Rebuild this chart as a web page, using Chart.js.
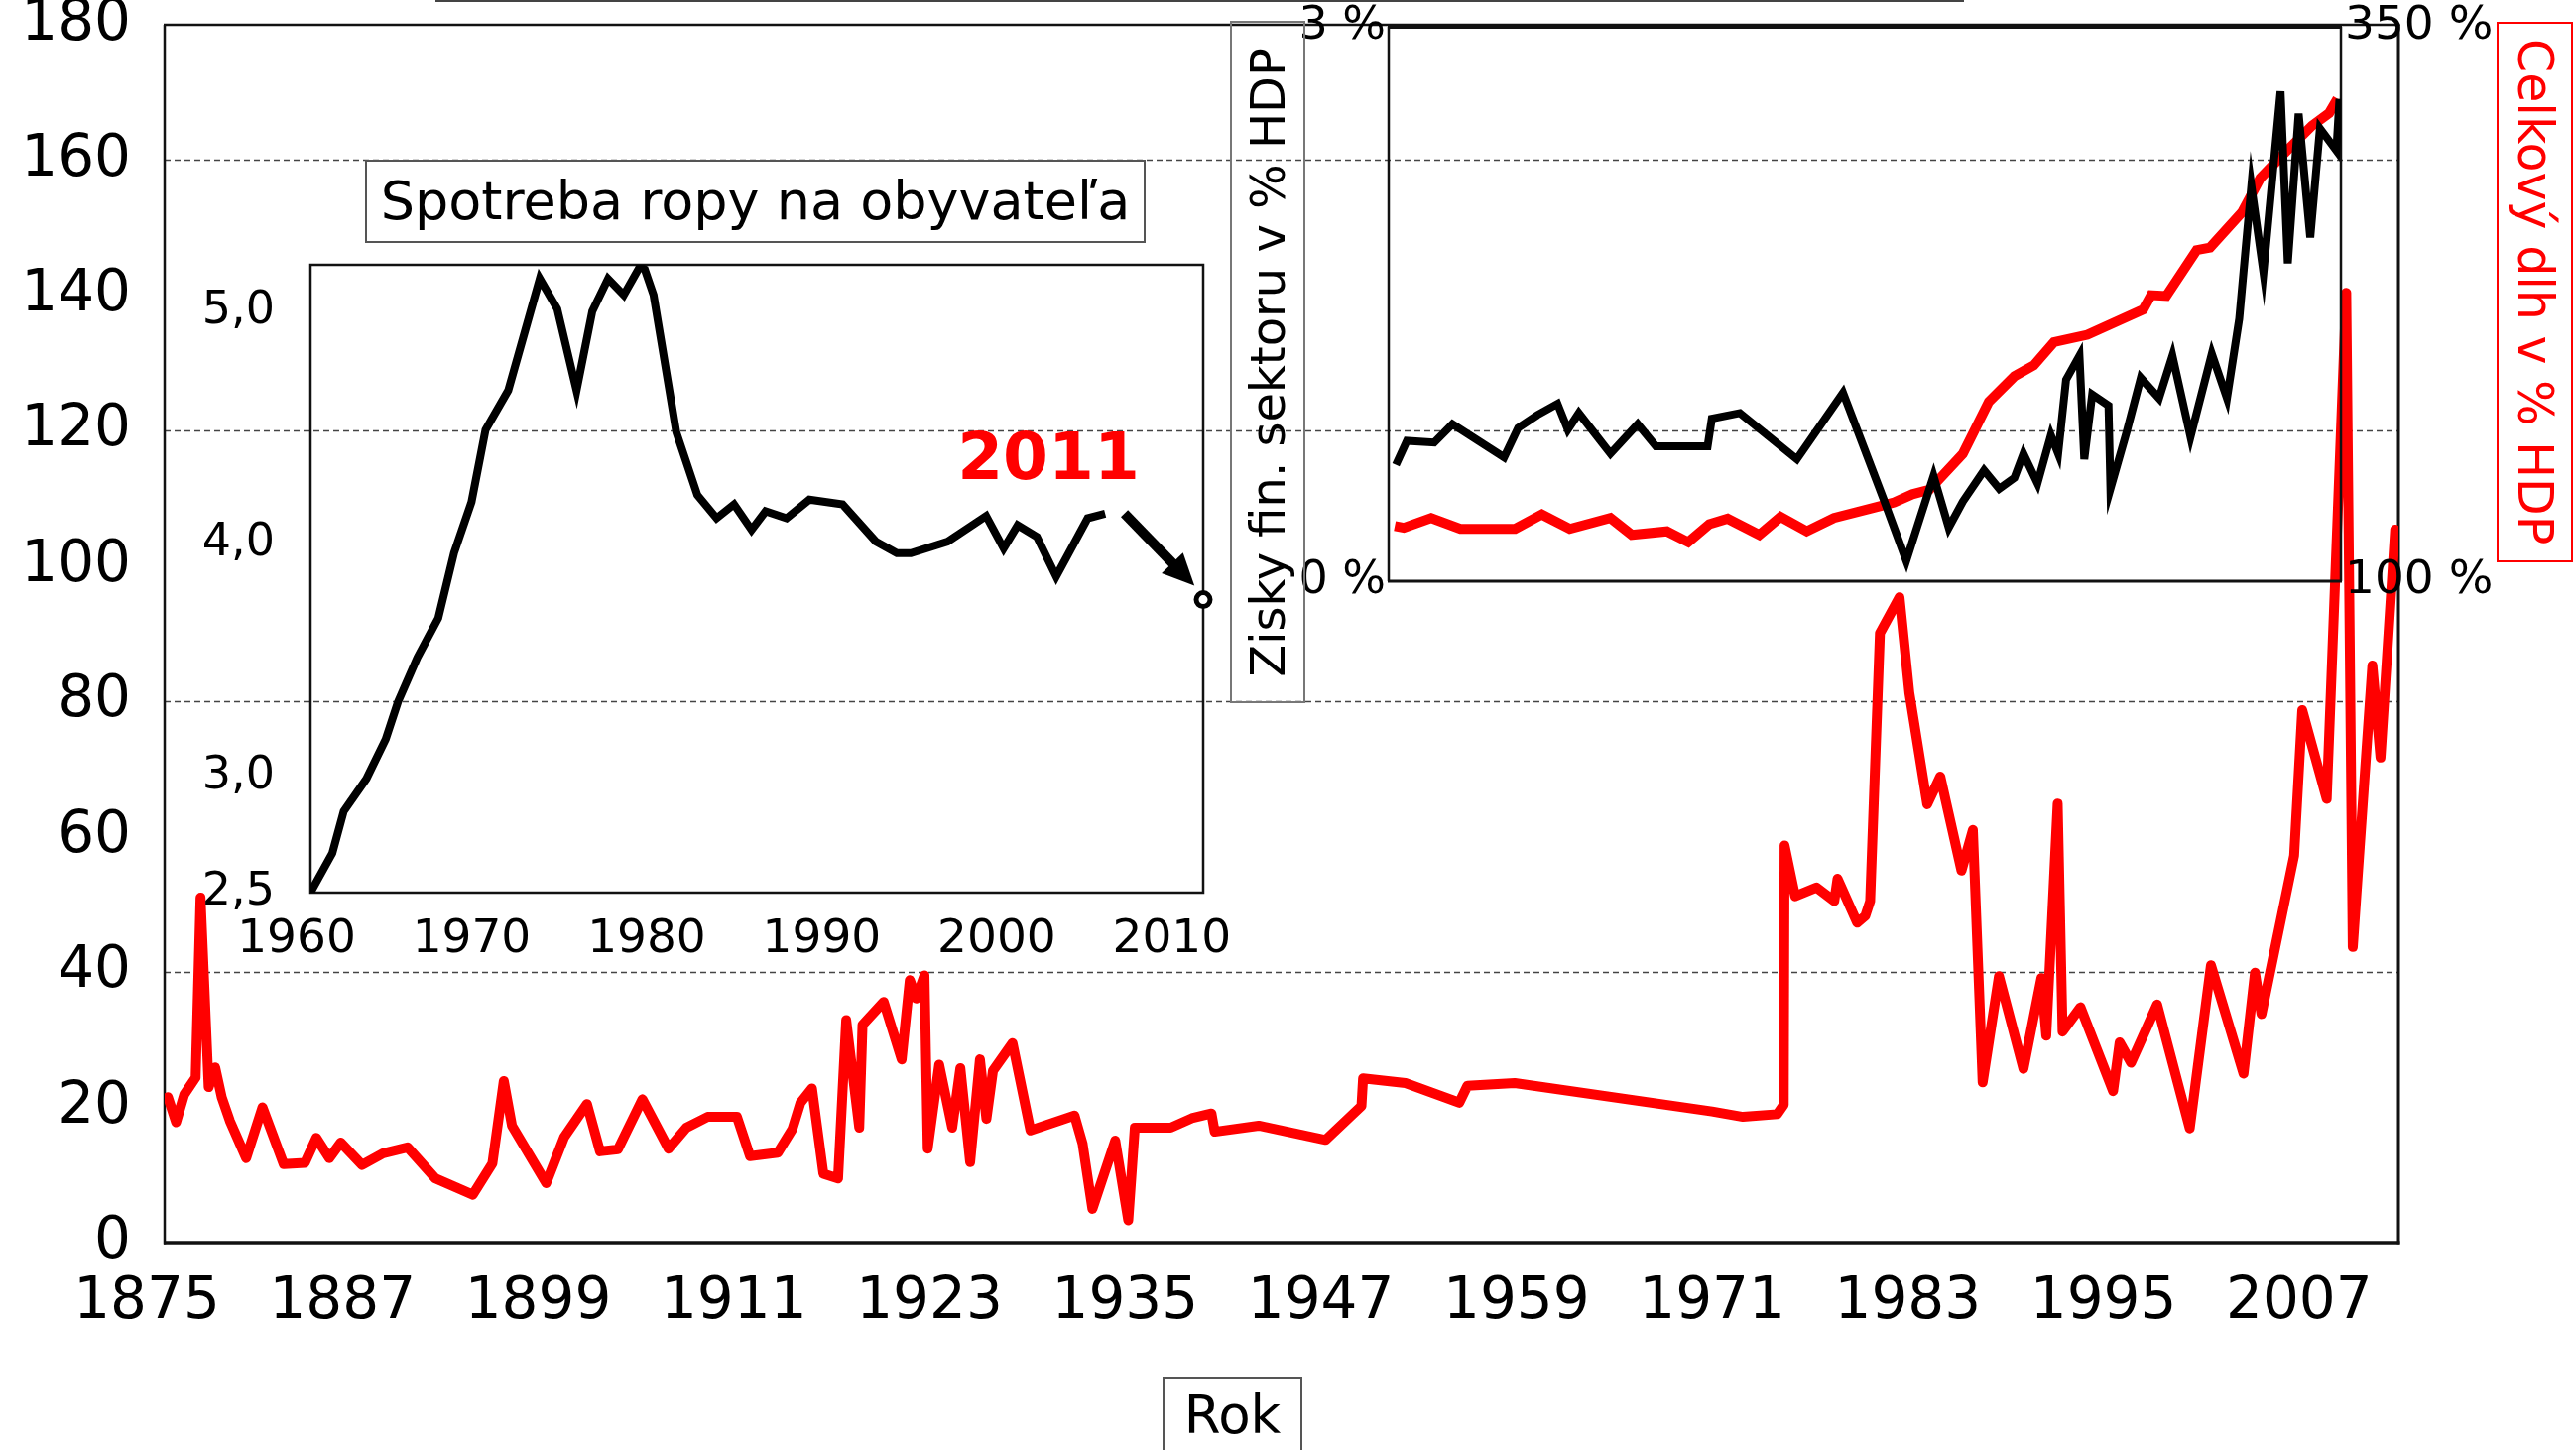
<!DOCTYPE html>
<html>
<head>
<meta charset="utf-8">
<script src="https://cdn.jsdelivr.net/npm/chart.js@4.4.1/dist/chart.umd.min.js"></script>
<style>
html,body{margin:0;padding:0;background:#fff;}
#wrap{position:relative;width:2597px;height:1462px;overflow:hidden;background:#fff;font-family:"DejaVu Sans",sans-serif;color:#000;}
canvas{position:absolute;}
.box{position:absolute;box-sizing:border-box;display:flex;align-items:center;justify-content:center;white-space:nowrap;line-height:1;}
.vup{writing-mode:vertical-rl;transform:rotate(180deg);}
.vdown{writing-mode:vertical-rl;}
</style>
</head>
<body>
<div id="wrap">
  <canvas id="mainChart" width="2597" height="1462" style="left:0;top:0"></canvas>
  <canvas id="oilChart" width="1060" height="740" style="left:180px;top:255px"></canvas>
  <canvas id="finChart" width="1250" height="620" style="left:1280px;top:0"></canvas>

  <div style="position:absolute;left:439px;top:0;width:1541px;height:2px;background:#444"></div>
  <div class="box" style="left:368px;top:161px;width:787px;height:84px;border:2px solid #555;font-size:54px;">Spotreba ropy na obyvateľa</div>
  <div style="position:absolute;left:957px;top:428px;width:200px;text-align:center;font-size:66px;font-weight:bold;color:#ff0000;line-height:1;">2011</div>
  <div class="box" style="left:1240px;top:21px;width:76px;height:688px;border:2px solid #777;font-size:48px;"><span class="vup">Zisky fin. sektoru v % HDP</span></div>
  <div class="box" style="left:2517px;top:22px;width:77px;height:545px;border:2px solid #ff0000;font-size:49px;color:#ff0000;"><span class="vdown">Celkový dlh v % HDP</span></div>
  <div class="box" style="left:1172px;top:1388px;width:141px;height:90px;border:2px solid #555;font-size:53px;padding-bottom:14px;">Rok</div>
</div>

<script>
// ---------------- DATA ----------------
// Main chart: red series, x = year, y = value
const mainYears = [1875.2,1875.7,1876.2,1876.9,1877.2,1877.7,1878.1,1878.5,1879.0,1880.0,
  1881.0,1882.3,1883.6,1884.3,1885.1,1885.8,1887.1,1888.4,1889.9,1891.6,
  1893.9,1895.1,1895.8,1896.3,1898.4,1899.5,1900.9,1901.7,1902.8,1904.3,
  1905.9,1907.0,1908.3,1910.1,1910.9,1912.6,1913.5,1914.0,1914.7,1915.4,
  1916.3,1916.8,1917.6,1917.8,1919.1,1920.2,1920.7,1921.1,1921.6,1921.8,
  1922.5,1923.3,1923.8,1924.4,1925.0,1925.4,1925.8,1927.0,1928.1,1930.8,
  1931.3,1931.9,1933.3,1934.1,1934.5,1936.7,1938.0,1939.2,1939.4,1942.1,
  1946.2,1948.4,1948.5,1951.1,1954.4,1954.9,1957.8,1969.9,1971.8,1973.9,
  1974.3,1974.35,1975.0,1976.3,1977.4,1977.6,1978.8,1979.3,1979.6,1980.2,
  1981.4,1982.0,1983.1,1983.9,1985.2,1985.9,1986.5,1987.5,1989.0,1990.1,
  1990.4,1991.1,1991.4,1992.5,1994.5,1994.9,1995.6,1997.2,1999.2,2000.5,
  2002.5,2003.2,2003.6,2005.6,2006.1,2007.6,2008.8,2009.2,2010.4,2010.9,2011.8];
const mainValues = [21.5,17.8,21.9,24.4,51.0,23.0,25.9,21.5,18.0,12.5,
  20.0,11.6,11.8,15.5,12.5,14.8,11.5,13.2,14.1,9.5,
  7.1,11.7,23.9,17.3,8.8,15.6,20.5,13.5,13.8,21.2,
  13.9,17.0,18.6,18.6,12.8,13.3,16.8,20.7,22.8,10.2,
  9.5,32.9,17.0,32.2,35.6,27.1,38.8,36.1,39.5,13.9,
  26.3,17.0,25.8,11.9,27.1,18.3,25.4,29.5,16.6,18.8,
  14.6,5.0,15.1,3.3,17.0,17.0,18.4,19.1,16.4,17.3,
  15.2,20.2,24.3,23.6,20.7,23.2,23.6,19.4,18.6,19.0,
  20.4,58.7,51.2,52.5,50.5,53.8,47.3,48.3,50.5,90.1,
  95.4,81.3,64.8,68.9,55.0,61.0,23.7,39.4,25.7,39.1,
  30.6,64.9,31.2,34.8,22.4,29.6,26.6,35.2,16.9,41.0,
  25.0,39.9,33.8,57.2,78.7,65.6,140.4,43.7,85.3,71.7,105.4];
const mainXTicks = [1875,1887,1899,1911,1923,1935,1947,1959,1971,1983,1995,2007];
const mainYTicks = [0,20,40,60,80,100,120,140,160,180];
const mainGridValues = [40,80,120,160];

// Inset 1: oil consumption per capita
const oilYears = [1960.0,1961.25,1961.9,1963.2,1964.3,1965.0,1966.1,1967.3,1968.2,1969.2,
  1970.0,1971.3,1973.1,1974.1,1975.2,1976.1,1977.0,1977.9,1978.8,1979.1,
  1979.6,1980.9,1982.1,1983.2,1984.2,1985.2,1986.0,1987.2,1988.5,1990.4,
  1992.3,1993.5,1994.3,1996.4,1998.6,1999.6,2000.4,2001.5,2002.6,2004.4,2005.4];
const oilValues = [2.50,2.67,2.85,2.99,3.16,3.32,3.51,3.68,3.96,4.18,
  4.49,4.66,5.14,5.01,4.66,5.00,5.14,5.07,5.19,5.18,
  5.07,4.48,4.21,4.11,4.17,4.06,4.14,4.11,4.19,4.17,
  4.01,3.96,3.96,4.01,4.12,3.98,4.08,4.03,3.86,4.11,4.13];
const oilXTicks = [1960,1970,1980,1990,2000,2010];
const oilYTicks = [2.5,3.0,4.0,5.0];
const oil2011Year = 2011;
const oil2011Value = 3.76;
const oilArrowFrom = [2006.5, 4.13];
const oilArrowTo = [2010.5, 3.82];

// Inset 2: financial-sector profits (% GDP, left) and total debt (% GDP, right)
const finYears = [1952.45,1953.13,1954.82,1955.95,1959.15,1960.02,1961.22,1962.46,1963.10,1963.78,
  1965.74,1967.43,1968.56,1971.76,1972.02,1973.76,1977.29,1980.15,1982.68,1984.07,
  1985.76,1986.70,1987.57,1988.89,1989.83,1990.77,1991.33,1992.20,1993.03,1993.48,
  1993.97,1994.80,1995.10,1995.59,1996.60,1996.72,1997.73,1998.60,1999.73,2000.56,
  2001.68,2003.00,2003.94,2004.70,2005.45,2006.20,2007.26,2007.71,2008.38,2009.10,
  2009.70,2010.72,2010.91];
const finProfits = [0.63,0.76,0.75,0.85,0.67,0.83,0.90,0.96,0.82,0.91,
  0.69,0.85,0.73,0.73,0.88,0.91,0.66,1.02,0.44,0.11,
  0.57,0.29,0.43,0.60,0.50,0.56,0.69,0.53,0.79,0.69,
  1.09,1.22,0.66,1.01,0.95,0.50,0.81,1.10,0.99,1.22,
  0.78,1.23,0.99,1.42,2.14,1.67,2.65,1.72,2.53,1.86,
  2.45,2.33,2.61];
const debtYears = [1952.38,1952.94,1954.63,1956.44,1959.83,1961.49,1963.22,1965.74,1967.06,1969.24,
  1970.56,1971.87,1973.00,1974.96,1976.28,1977.90,1979.59,1982.49,1983.32,1984.45,
  1985.50,1987.57,1989.19,1990.77,1991.97,1993.22,1995.29,1998.75,1999.24,2000.18,
  2002.06,2002.89,2004.88,2006.01,2007.63,2009.21,2010.27,2010.79];
const debtValues = [124.9,124.1,128.5,123.6,123.6,130.1,123.6,128.5,120.9,122.5,
  117.6,125.7,128.2,120.9,129.0,122.5,128.5,133.9,135.5,139.2,
  141.2,157.4,181.0,192.4,197.3,207.8,211.1,222.5,229.0,228.6,
  249.3,250.4,266.4,281.8,294.0,305.4,311.1,317.6];
const finYTicks = [0,3];
const debtYTicks = [100,350];

// ---------------- HELPERS ----------------
Chart.defaults.font.family = '"DejaVu Sans", sans-serif';
Chart.defaults.color = '#000';
Chart.defaults.animation = false;

const xy = (xs, ys) => xs.map((x, i) => ({x: x, y: ys[i]}));
const fixSize = (prop, val) => function (s) {
  s[prop] = val;
  s.paddingLeft = 0; s.paddingRight = 0; s.paddingTop = 0; s.paddingBottom = 0;
};
const setTicks = arr => function (s) { s.ticks = arr.map(v => ({value: v})); };
const noGrid = {display: false, drawTicks: false, tickLength: 0};
const noBorder = {display: false};

function line(ctx, x1, y1, x2, y2, w, color, dash) {
  ctx.save();
  ctx.beginPath();
  ctx.lineWidth = w;
  ctx.strokeStyle = color;
  ctx.setLineDash(dash || []);
  ctx.moveTo(x1, y1);
  ctx.lineTo(x2, y2);
  ctx.stroke();
  ctx.restore();
}

// ---------------- MAIN CHART ----------------
const mainFrame = {
  id: 'mainFrame',
  beforeDatasetsDraw(chart) {
    const {ctx, chartArea: a} = chart;
    const ys = chart.scales.y;
    mainGridValues.forEach(v => {
      const y = Math.round(ys.getPixelForValue(v)) + 0.5;
      line(ctx, a.left, y, a.right, y, 1.5, '#444', [6, 4]);
    });
    line(ctx, a.left - 1, a.top, a.right + 1.5, a.top, 2.5, '#111');
    line(ctx, a.left, a.top, a.left, a.bottom + 1.5, 2.5, '#111');
    line(ctx, a.right, a.top, a.right, a.bottom + 1.5, 3, '#111');
    line(ctx, a.left - 1, a.bottom, a.right + 1.5, a.bottom, 3.5, '#111');
  }
};

new Chart(document.getElementById('mainChart'), {
  type: 'line',
  data: {
    datasets: [{
      data: xy(mainYears, mainValues),
      borderColor: '#ff0000',
      borderWidth: 10,
      pointRadius: 0,
      tension: 0,
      borderJoinStyle: 'round',
      borderCapStyle: 'round',
      fill: false
    }]
  },
  options: {
    responsive: false,
    animation: false,
    events: [],
    layout: {padding: {top: 25, right: 179, left: 0, bottom: 0}},
    plugins: {legend: {display: false}, tooltip: {enabled: false}},
    scales: {
      x: {
        type: 'linear', min: 1875, max: 2012,
        afterBuildTicks: setTicks(mainXTicks),
        afterFit: fixSize('height', 209),
        grid: noGrid, border: noBorder,
        ticks: {autoSkip: false, maxRotation: 0, padding: 26, labelOffset: -18,
                font: {size: 58}, callback: v => String(v)}
      },
      y: {
        type: 'linear', min: 0, max: 180,
        afterBuildTicks: setTicks(mainYTicks),
        afterFit: fixSize('width', 166),
        grid: noGrid, border: noBorder,
        ticks: {padding: 34, font: {size: 58}, callback: v => String(v)}
      }
    }
  },
  plugins: [mainFrame]
});

// ---------------- INSET 1: OIL PER CAPITA ----------------
const oilDecor = {
  id: 'oilDecor',
  beforeDatasetsDraw(chart) {
    const {ctx, chartArea: a} = chart;
    ctx.save();
    ctx.lineWidth = 2.5;
    ctx.strokeStyle = '#111';
    ctx.strokeRect(a.left, a.top, a.right - a.left, a.bottom - a.top);
    ctx.restore();
  },
  afterDatasetsDraw(chart) {
    const {ctx} = chart;
    const xs = chart.scales.x, ys = chart.scales.y;
    const x1 = xs.getPixelForValue(oilArrowFrom[0]), y1 = ys.getPixelForValue(oilArrowFrom[1]);
    const x2 = xs.getPixelForValue(oilArrowTo[0]), y2 = ys.getPixelForValue(oilArrowTo[1]);
    const ang = Math.atan2(y2 - y1, x2 - x1);
    const head = 32, half = 15;
    const bx = x2 - head * Math.cos(ang), by = y2 - head * Math.sin(ang);
    line(ctx, x1, y1, bx + 4 * Math.cos(ang), by + 4 * Math.sin(ang), 10, '#000');
    ctx.save();
    ctx.fillStyle = '#000';
    ctx.beginPath();
    ctx.moveTo(x2, y2);
    ctx.lineTo(bx + half * Math.sin(ang), by - half * Math.cos(ang));
    ctx.lineTo(bx - half * Math.sin(ang), by + half * Math.cos(ang));
    ctx.closePath();
    ctx.fill();
    ctx.restore();
  }
};

new Chart(document.getElementById('oilChart'), {
  type: 'line',
  data: {
    datasets: [{
      data: xy(oilYears, oilValues),
      borderColor: '#000',
      borderWidth: 8,
      pointRadius: 0,
      tension: 0,
      borderJoinStyle: 'miter',
      fill: false
    }, {
      data: [{x: oil2011Year, y: oil2011Value}],
      showLine: false,
      pointRadius: 7,
      pointBorderWidth: 5,
      pointBorderColor: '#000',
      pointBackgroundColor: '#fff',
      clip: false
    }]
  },
  options: {
    responsive: false,
    animation: false,
    events: [],
    layout: {padding: {top: 11, right: 27, left: 0, bottom: 0}},
    plugins: {legend: {display: false}, tooltip: {enabled: false}},
    scales: {
      x: {
        type: 'linear', min: 1960, max: 2011,
        afterBuildTicks: setTicks(oilXTicks),
        afterFit: fixSize('height', 95),
        grid: noGrid, border: noBorder,
        ticks: {autoSkip: false, maxRotation: 0, padding: 20, labelOffset: -14,
                font: {size: 47}, callback: v => String(v)}
      },
      y: {
        type: 'linear', min: 2.5, max: 5.2,
        afterBuildTicks: setTicks(oilYTicks),
        afterFit: fixSize('width', 133),
        grid: noGrid, border: noBorder,
        ticks: {padding: 36, font: {size: 46}, callback: v => v.toFixed(1).replace('.', ',')}
      }
    }
  },
  plugins: [oilDecor]
});

// ---------------- INSET 2: PROFITS & DEBT ----------------
const finFrame = {
  id: 'finFrame',
  beforeDatasetsDraw(chart) {
    const {ctx, chartArea: a} = chart;
    line(ctx, a.left - 1, a.top, a.right + 1, a.top, 4, '#111');
    line(ctx, a.left, a.top, a.left, a.bottom, 2.5, '#111');
    line(ctx, a.right, a.top, a.right, a.bottom, 2.5, '#111');
    line(ctx, a.left - 1, a.bottom, a.right + 1, a.bottom, 3, '#111');
  }
};

new Chart(document.getElementById('finChart'), {
  type: 'line',
  data: {
    datasets: [{
      data: xy(finYears, finProfits),
      yAxisID: 'y',
      borderColor: '#000',
      borderWidth: 8,
      pointRadius: 0,
      tension: 0,
      order: 0,
      fill: false
    }, {
      data: xy(debtYears, debtValues),
      yAxisID: 'y2',
      borderColor: '#ff0000',
      borderWidth: 10,
      pointRadius: 0,
      tension: 0,
      order: 1,
      fill: false
    }]
  },
  options: {
    responsive: false,
    animation: false,
    events: [],
    layout: {padding: {top: 27, right: 0, left: 0, bottom: 34}},
    plugins: {legend: {display: false}, tooltip: {enabled: false}},
    scales: {
      x: {type: 'linear', min: 1952, max: 2011, display: false},
      y: {
        type: 'linear', position: 'left', min: 0, max: 3,
        afterBuildTicks: setTicks(finYTicks),
        afterFit: fixSize('width', 120),
        grid: noGrid, border: noBorder,
        ticks: {padding: 3, font: {size: 46}, callback: v => v + ' %'}
      },
      y2: {
        type: 'linear', position: 'right', min: 100, max: 350,
        afterBuildTicks: setTicks(debtYTicks),
        afterFit: fixSize('width', 170),
        grid: noGrid, border: noBorder,
        ticks: {padding: 4, font: {size: 47}, callback: v => v + ' %'}
      }
    }
  },
  plugins: [finFrame]
});
</script>
</body>
</html>
